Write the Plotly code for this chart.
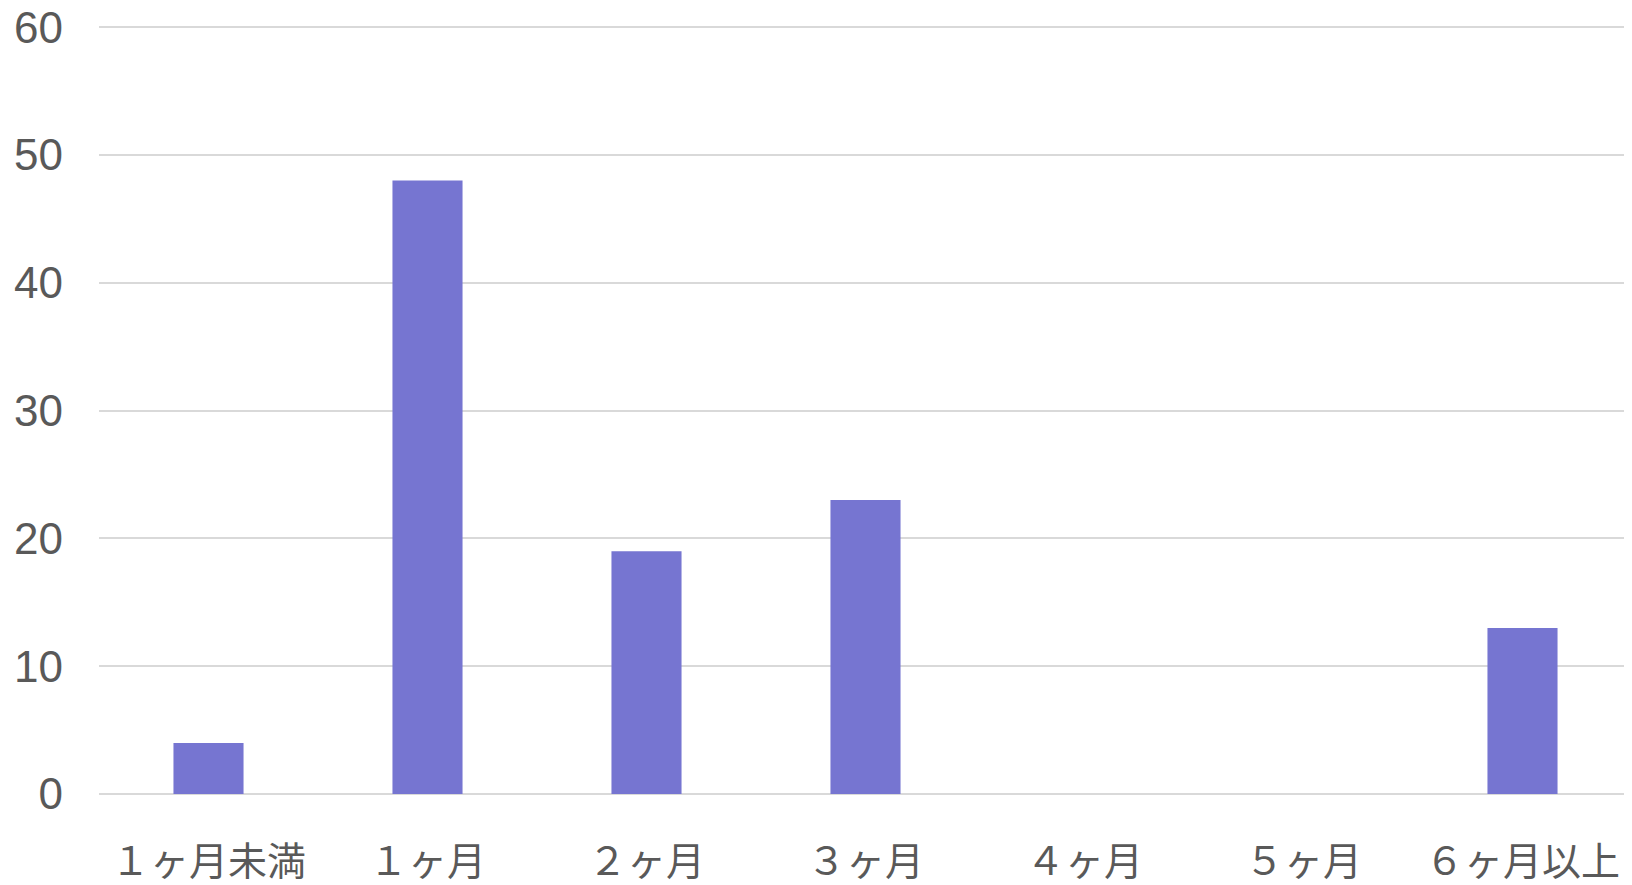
import plotly.graph_objects as go

categories = ["１ヶ月未満", "１ヶ月", "２ヶ月", "３ヶ月", "４ヶ月", "５ヶ月", "６ヶ月以上"]
values = [4, 48, 19, 23, 0, 0, 13]
y_ticks = [0, 10, 20, 30, 40, 50, 60]

fig = go.Figure(go.Bar(
    x=categories, y=values,
    marker=dict(color="#7675D1", line=dict(width=0)),
    width=0.32,
))

fig.update_layout(
    width=1632, height=885,
    margin=dict(l=91, r=8, t=18, b=99),
    paper_bgcolor="white", plot_bgcolor="white",
    showlegend=False,
    xaxis=dict(
        tickfont=dict(family="Noto Sans CJK JP", size=39, color="#595959"),
        showgrid=False, showline=False, zeroline=False, automargin=False,
        ticks="", ticklabelstandoff=41, ticklabeloverflow="allow",
    ),
    yaxis=dict(
        range=[0, 60.1], tickvals=y_ticks, automargin=False,
        tickfont=dict(family="Liberation Sans, Arial", size=44, color="#595959"),
        showgrid=True, gridcolor="#D9D9D9", gridwidth=2,
        zeroline=True, zerolinecolor="#D9D9D9", zerolinewidth=2,
        showline=False, ticks="", ticklabelstandoff=35, ticklabeloverflow="allow",
    ),
)

fig.write_html("out.html")
